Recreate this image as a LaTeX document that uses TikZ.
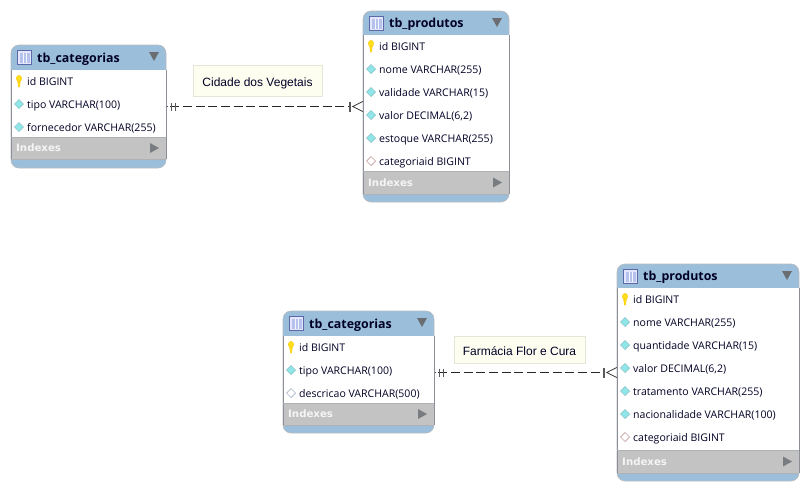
\documentclass[tikz,border=0pt]{standalone}
\usepackage{fontspec}
\setmainfont{Open Sans}
\newfontfamily\notefont{Liberation Sans}
\newfontfamily\idxfont{DejaVu Sans}
\begin{document}
\begin{tikzpicture}[x=1pt,y=-1pt,
  rowtext/.style={anchor=west,inner sep=0pt,yshift=-1.3pt,text height=8pt,text depth=2.5pt,font=\fontsize{10.55}{12}\selectfont,text=black!85!blue},
  titletext/.style={anchor=west,inner sep=0pt,yshift=-1pt,text height=9pt,text depth=3pt,font=\fontsize{12.4}{14}\selectfont\bfseries,text=black!85!blue},
  idxtext/.style={anchor=west,inner sep=0pt,font=\idxfont\fontsize{10.2}{12}\selectfont\bfseries,text=white!96!black},
  notebox/.style={draw=notebd,fill=notefill,line width=0.9pt,inner sep=0pt,text height=12pt,text depth=0.4pt,font=\notefont\fontsize{12}{14}\selectfont,text=black!85!blue},
  relline/.style={draw=black!85,line width=1pt,dash pattern=on 9pt off 3.7pt},
  relmark/.style={draw=black!65,line width=1.2pt},
  crowmark/.style={draw=black!80,line width=0.8pt},
]
\definecolor{headblue}{HTML}{9BBFDA}
\definecolor{idxgray}{HTML}{C3C3C3}
\definecolor{edgegray}{HTML}{8C9096}
\definecolor{notefill}{HTML}{FDFDF0}
\definecolor{notebd}{HTML}{E6E6D8}
\definecolor{arrowgray}{HTML}{6A6E72}
\definecolor{cyanfill}{HTML}{8FE6E8}
\definecolor{cyanedge}{HTML}{8FC4CC}
\definecolor{pinkedge}{HTML}{C89C9C}
\definecolor{paleedge}{HTML}{A8B8C8}
\definecolor{iconfill}{HTML}{B4C2EC}
\definecolor{iconedge}{HTML}{5A6AA8}
\useasboundingbox (0,0) rectangle (808,490);
\fill[white] (0,0) rectangle (808,490);
% args: name, x1,y1,x2,y2, yhead, yrows, yidx, title
\newcommand{\tbl}[9]{%
  \path[fill=headblue,draw=edgegray!60,line width=0.6pt,rounded corners=8pt] (#2,#3) rectangle (#4,#5);
  \node[minimum width=#4pt-#2pt,minimum height=#5pt-#3pt,inner sep=0pt] (#1) at ({(#2+#4)/2},{(#3+#5)/2}) {};
  \fill[white] (#2,#6) rectangle (#4,#7);
  \fill[idxgray] (#2,#7) rectangle (#4,#8);
  \draw[edgegray,line width=0.9pt] (#2,#6) -- (#2,#8) (#4,#6) -- (#4,#8);
  \draw[edgegray!70,line width=0.7pt] (#2,#7) -- (#4,#7) (#2,#8) -- (#4,#8);
  % table icon
  \fill[white!90!blue] (#2+6,#3+5) rectangle (#2+21,#3+20);
  \draw[iconedge,line width=0.9pt] (#2+6.5,#3+5.5) rectangle (#2+20.5,#3+19.5);
  \fill[iconfill] (#2+8.5,#3+8) rectangle (#2+18.5,#3+17.5);
  \draw[white!85!iconfill,line width=0.6pt] (#2+11.8,#3+8) -- (#2+11.8,#3+17.5) (#2+15.2,#3+8) -- (#2+15.2,#3+17.5);
  \node[titletext] (#1title) at (#2+26,{(#3+#6)/2+0.5}) {#9};
  \fill[arrowgray] (#4-17,#3+7) -- (#4-7,#3+7) -- (#4-12,#3+16) -- cycle;
  \node[idxtext] (#1idx) at (#2+5,{(#7+#8)/2}) {Indexes};
  \fill[arrowgray!90!white] (#4-16,{(#7+#8)/2-5}) -- (#4-7,{(#7+#8)/2}) -- (#4-16,{(#7+#8)/2+5}) -- cycle;
}
% args: x,y of icon centre
\newcommand{\keyicon}[2]{%
  \fill[yellow!80!orange!90!white,draw=orange!50!yellow,line width=0.3pt] (#1-1.3,#2) -- (#1+1.3,#2) -- (#1+0.7,#2+6) -- (#1-0.7,#2+6) -- cycle;
  \fill[yellow!80!orange!90!white,draw=orange!50!yellow,line width=0.3pt] (#1,#2-2.5) ellipse (2.7pt and 3.2pt);
}
\newcommand{\dmd}[4]{% x,y,fill,edge
  \fill[#3,draw=#4,line width=0.7pt] (#1,#2-4.5) -- (#1+4.5,#2) -- (#1,#2+4.5) -- (#1-4.5,#2) -- cycle;
}
% ---- tables
\tbl{ta}{11}{45}{166}{168}{70}{137}{159}{tb\_categorias}
\tbl{tb}{363}{11}{509}{202}{35}{171}{194}{tb\_produtos}
\tbl{tc}{283}{311}{434}{433}{336}{403}{425}{tb\_categorias}
\tbl{td}{617}{264}{799}{481}{288}{450}{473}{tb\_produtos}
% ---- rows A
\keyicon{19}{81}
\node[rowtext] (a1) at (27,81.5) {id BIGINT};
\dmd{19}{104}{cyanfill}{cyanedge}
\node[rowtext] (a2) at (27,104.5) {tipo VARCHAR(100)};
\dmd{19}{127}{cyanfill}{cyanedge}
\node[rowtext] (a3) at (27,127.5) {fornecedor VARCHAR(255)};
% ---- rows B
\keyicon{371}{46}
\node[rowtext] (b1) at (379,46.5) {id BIGINT};
\dmd{371}{69}{cyanfill}{cyanedge}
\node[rowtext] (b2) at (379,69.5) {nome VARCHAR(255)};
\dmd{371}{92}{cyanfill}{cyanedge}
\node[rowtext] (b3) at (379,92.5) {validade VARCHAR(15)};
\dmd{371}{115}{cyanfill}{cyanedge}
\node[rowtext] (b4) at (379,115.5) {valor DECIMAL(6,2)};
\dmd{371}{138}{cyanfill}{cyanedge}
\node[rowtext] (b5) at (379,138.5) {estoque VARCHAR(255)};
\dmd{371}{161}{white}{pinkedge}
\node[rowtext] (b6) at (379,161.5) {categoriaid BIGINT};
% ---- rows C
\keyicon{291}{347}
\node[rowtext] (c1) at (299,347.5) {id BIGINT};
\dmd{291}{370}{cyanfill}{cyanedge}
\node[rowtext] (c2) at (299,370.5) {tipo VARCHAR(100)};
\dmd{291}{393}{white}{paleedge}
\node[rowtext] (c3) at (299,393.5) {descricao VARCHAR(500)};
% ---- rows D
\keyicon{625}{299}
\node[rowtext] (d1) at (633,299.5) {id BIGINT};
\dmd{625}{322}{cyanfill}{cyanedge}
\node[rowtext] (d2) at (633,322.5) {nome VARCHAR(255)};
\dmd{625}{345}{cyanfill}{cyanedge}
\node[rowtext] (d3) at (633,345.5) {quantidade VARCHAR(15)};
\dmd{625}{368}{cyanfill}{cyanedge}
\node[rowtext] (d4) at (633,368.5) {valor DECIMAL(6,2)};
\dmd{625}{391}{cyanfill}{cyanedge}
\node[rowtext] (d5) at (633,391.5) {tratamento VARCHAR(255)};
\dmd{625}{414}{cyanfill}{cyanedge}
\node[rowtext] (d6) at (633,414.5) {nacionalidade VARCHAR(100)};
\dmd{625}{437}{white}{pinkedge}
\node[rowtext] (d7) at (633,437.5) {categoriaid BIGINT};
% ---- notes
\node[notebox,minimum width=129pt,minimum height=31pt] (n1) at (257.5,80.5) {Cidade dos Vegetais};
\node[notebox,minimum width=131pt,minimum height=27pt] (n2) at (519.5,349.5) {Farmácia Flor e Cura};
% ---- connectors
\coordinate (ry1) at (0,106.5);
\coordinate (ry2) at (0,372.5);
\draw[relline] ([xshift=4pt]ta.east |- ry1) -- ([xshift=-13pt]tb.west |- ry1);
\draw[relline] ([xshift=4pt]tc.east |- ry2) -- ([xshift=-13pt]td.west |- ry2);
\draw[black!70,line width=0.8pt] ([xshift=1pt]ta.east |- ry1) -- ([xshift=2pt]ta.east |- ry1);
\draw[black!70,line width=0.8pt] ([xshift=1pt]tc.east |- ry2) -- ([xshift=2pt]tc.east |- ry2);
% marks one
\draw[relmark] ([xshift=5pt,yshift=4pt]ta.east |- ry1) -- ++(0,8) ([xshift=9pt,yshift=4pt]ta.east |- ry1) -- ++(0,8);
\draw[relmark,line width=1.6pt] ([xshift=-13pt,yshift=5pt]tb.west |- ry1) -- ++(0,10);
\draw[crowmark] ([yshift=5pt]tb.west |- ry1) -- ([xshift=-10pt]tb.west |- ry1) -- ([yshift=-5pt]tb.west |- ry1);
% marks two
\draw[relmark] ([xshift=5pt,yshift=4pt]tc.east |- ry2) -- ++(0,8) ([xshift=9pt,yshift=4pt]tc.east |- ry2) -- ++(0,8);
\draw[relmark,line width=1.6pt] ([xshift=-13pt,yshift=5pt]td.west |- ry2) -- ++(0,10);
\draw[crowmark] ([yshift=5pt]td.west |- ry2) -- ([xshift=-10pt]td.west |- ry2) -- ([yshift=-5pt]td.west |- ry2);
\end{tikzpicture}
\end{document}
